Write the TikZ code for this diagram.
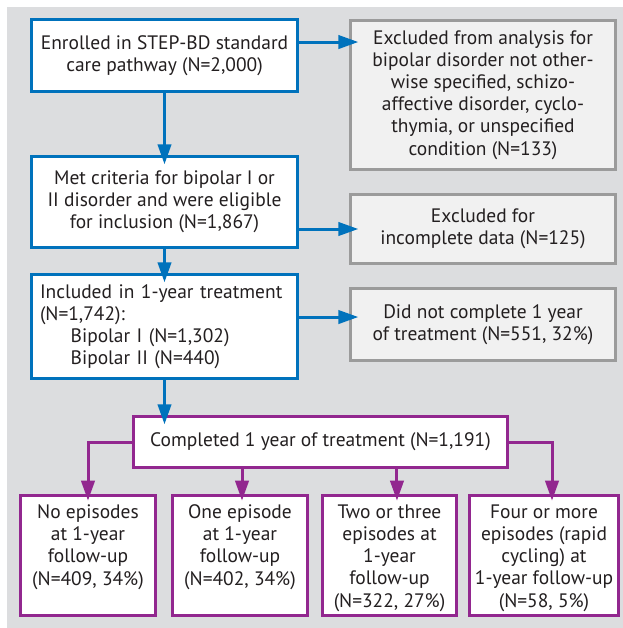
\documentclass[tikz,border=0pt]{standalone}
\usepackage{fontspec}
\setmainfont{PT Sans}
\usepackage{tikz}
\usetikzlibrary{arrows.meta}
\definecolor{stepblue}{RGB}{0,114,188}
\definecolor{steppurple}{RGB}{146,39,143}
\definecolor{panelgray}{RGB}{220,221,223}
\definecolor{boxgray}{RGB}{241,241,241}
\definecolor{edgegray}{RGB}{155,155,155}
\definecolor{inkgray}{RGB}{35,31,32}
% text of the bottom boxes starts at the top
\newcommand{\toptext}[2]{\parbox[c][76pt][t]{#1}{\centering #2}}

\begin{document}
\begin{tikzpicture}[x=0.75pt,y=-0.75pt,
		font=\fontsize{14.6}{16.6}\selectfont,text=inkgray,
		bluebox/.style={draw=stepblue,line width=2.25pt,fill=white,inner sep=0pt,align=center,minimum width=199.5pt},
		graybox/.style={draw=edgegray,line width=2.25pt,fill=boxgray,inner sep=0pt,align=center,minimum width=198.75pt},
		purplebox/.style={draw=steppurple,line width=2.25pt,fill=white,inner sep=0pt,align=center,minimum height=90pt},
		bluearrow/.style={draw=stepblue,line width=2.25pt,-{Triangle[length=15pt,width=10pt]},shorten >=-7pt},
		purplearrow/.style={draw=steppurple,line width=2.25pt,-{Triangle[length=15pt,width=10pt]},shorten >=-5pt}]
		\useasboundingbox (0,0) rectangle (623,628);
		\fill[panelgray] (7,7) rectangle (623,628);
		
		% main column
		\node[bluebox,minimum height=54pt] (enrol) at (164.5,55.5) {Enrolled in STEP-BD standard\\care pathway (N=2,000)};
		\node[bluebox,minimum height=68.25pt] (crit) at (164.5,202) {Met criteria for bipolar I or\\II disorder and were eligible\\for inclusion (N=1,867)};
		\node[bluebox,minimum height=78pt,text width=186.75pt,align=left] (incl) at (164.5,326.5) {Included in 1-year treatment\\(N=1,742):\\\hspace*{23pt}Bipolar I (N=1,302)\\\hspace*{23pt}Bipolar II (N=440)};
		
		% exclusions
		\node[graybox,minimum height=111.75pt] (exclA) at (483,95) {Excluded from analysis for\\bipolar disorder not other-\\wise specified, schizo-\\affective disorder, cyclo-\\thymia, or unspecified\\condition (N=133)};
		\node[graybox,minimum height=51.75pt] (exclB) at (483,229) {Excluded for\\incomplete data (N=125)};
		\node[graybox,minimum height=54pt] (didnot) at (483,324.5) {Did not complete 1 year\\of treatment (N=551, 32\%)};
		
		% completers and outcomes
		\node[purplebox,minimum width=280.5pt,minimum height=38.25pt] (compl) at (320.5,442) {Completed 1 year of treatment (N=1,191)};
		\node[purplebox,minimum width=101.25pt] (ep1) at (88,555.5) {\toptext{97pt}{No episodes\\at 1-year\\follow-up\\(N=409, 34\%)}};
		\node[purplebox,minimum width=101.25pt] (ep2) at (240,555.5) {\toptext{97pt}{One episode\\at 1-year\\follow-up\\(N=402, 34\%)}};
		\node[purplebox,minimum width=100.5pt] (ep3) at (389.5,555.5) {\toptext{97pt}{Two or three\\episodes at\\1-year\\follow-up\\(N=322, 27\%)}};
		\node[purplebox,minimum width=111.75pt] (ep4) at (544,555.5) {\toptext{108pt}{Four or more\\episodes (rapid\\cycling) at\\1-year follow-up\\(N=58, 5\%)}};
		
		\draw[bluearrow] (enrol) -- (crit);
		\draw[bluearrow] (crit) -- (incl);
		\draw[bluearrow] (incl.south) -- (incl.south |- compl.north);
		\draw[bluearrow] ([yshift=10.1pt]enrol.east) -- ([yshift=10.1pt]enrol.east -| exclA.west);
		\draw[bluearrow] (crit.east |- exclB.west) -- (exclB.west);
		\draw[bluearrow] ([yshift=5.6pt]didnot.west -| incl.east) -- ([yshift=5.6pt]didnot.west);
		
		\draw[purplearrow] (compl.west) -| (ep1.north);
		\draw[purplearrow] (compl.east) -| ([xshift=6pt]ep4.north);
		\foreach \e/\s in {ep2/1.5pt,ep3/5.6pt}{
			\draw[purplearrow] ([xshift=\s]\e.north |- compl.south) -- ([xshift=\s]\e.north);
		}
	\end{tikzpicture}
\end{document}
